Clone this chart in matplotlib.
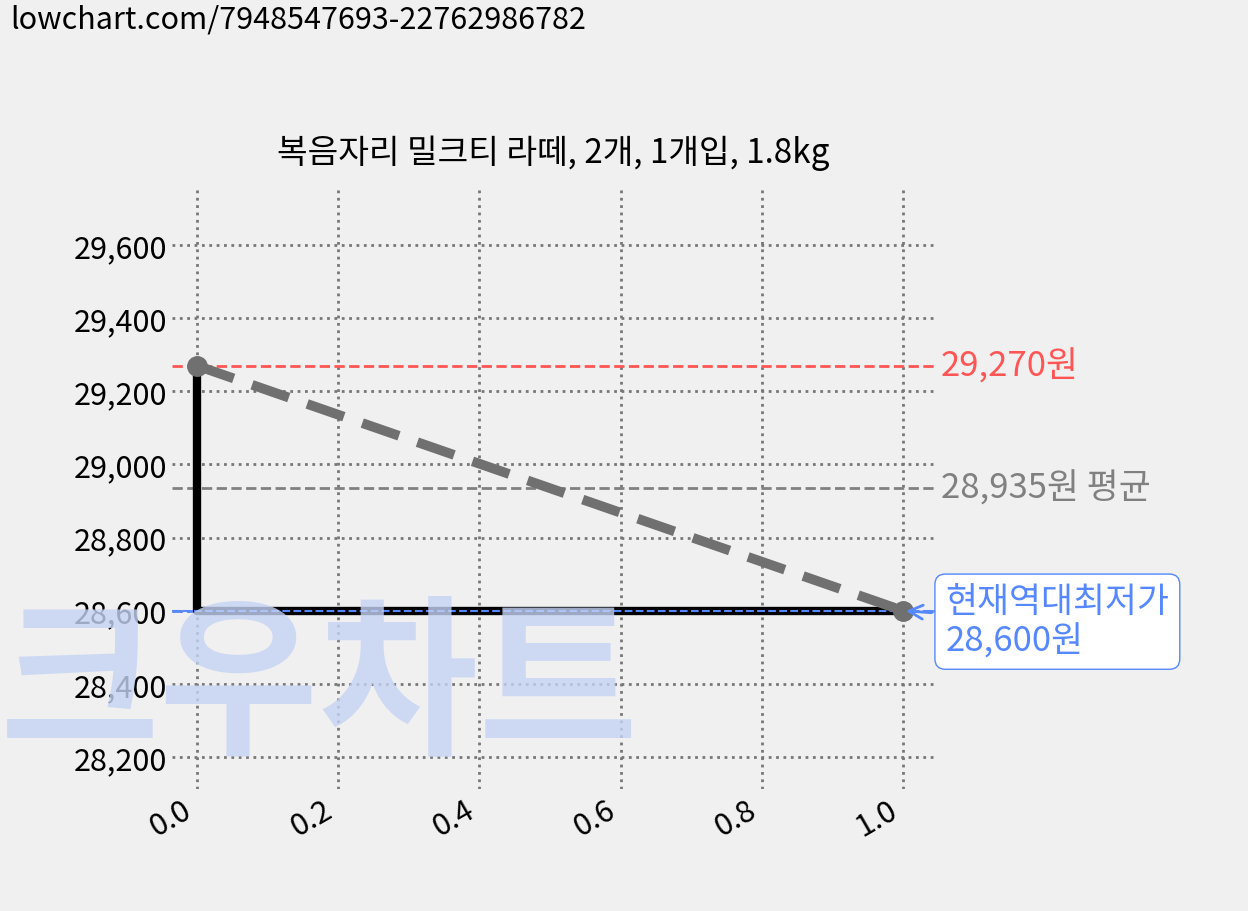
import matplotlib
matplotlib.use("Agg")
import matplotlib.pyplot as plt

plt.rcParams['font.family'] = ['Noto Sans CJK KR', 'DejaVu Sans']

title = "복음자리 밀크티 라떼, 2개, 1개입, 1.8kg"
x = [0.0, 1.0]
prices = [29270, 28600]
max_price = 29270
avg_price = 28935
min_price = 28600

fig = plt.figure(figsize=(12.48, 9.12), dpi=100, facecolor='#f0f0f0')
ax = fig.add_axes([0.138, 0.134, 0.611, 0.66], facecolor='none')

fig.text(0.0, 0.245, "크우차트", fontsize=125, color='#c5d3f5',
         alpha=0.8, fontweight='black', va='center', ha='left', zorder=0)

ax.axhline(max_price, color='#ff5555', ls='--', lw=2)
ax.axhline(avg_price, color='#808080', ls='--', lw=2)
ax.axhline(min_price, color='#5588ff', ls='--', lw=2)

ax.plot([x[0], x[0], x[1]], [prices[0], prices[1], prices[1]], color='black', lw=6)
ax.axhline(min_price, color='#5588ff', ls='--', lw=1.5)
ax.plot(x, prices, color='#707070', ls='--', lw=7, dashes=(4, 2),
        marker='o', markersize=14, markerfacecolor='#707070')

ax.set_xlim(-0.035, 1.045)
ax.set_ylim(28113, 29759)
ax.set_yticks(range(28200, 29601, 200))
ax.yaxis.set_major_formatter(matplotlib.ticker.FuncFormatter(lambda v, p: f"{int(v):,}"))
ax.grid(True, ls=':', color='#777777', lw=2)
for s in ax.spines.values():
    s.set_visible(False)
ax.tick_params(length=0, labelsize=22)
plt.setp(ax.get_xticklabels(), rotation=30, ha='right')
ax.set_title(title, fontsize=24, pad=18)

ax.text(1.008, max_price, f"{max_price:,}원", color='#ff5555', fontsize=25, va='center',
        transform=ax.get_yaxis_transform())
ax.text(1.008, avg_price, f"{avg_price:,}원 평균", color='#808080', fontsize=25, va='center',
        transform=ax.get_yaxis_transform())
ax.annotate(f"현재역대최저가\n{min_price:,}원", xy=(1.0, min_price), xytext=(1.06, min_price - 30),
            color='#5588ff', fontsize=25, va='center', linespacing=1.15,
            bbox=dict(boxstyle='round,pad=0.3', fc='white', ec='#5588ff'),
            arrowprops=dict(arrowstyle='->', color='#5588ff', lw=2))

fig.text(0.008, 0.995, "lowchart.com/7948547693-22762986782", fontsize=22, va='top')

fig.savefig("out.png", dpi=100, facecolor=fig.get_facecolor())
